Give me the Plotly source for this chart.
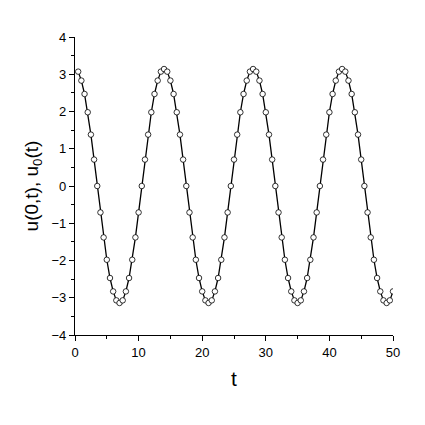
import plotly.graph_objects as go

t = [0.5, 1.0, 1.5, 2.0, 2.5, 3.0, 3.5, 4.0, 4.5, 5.0,
     5.5, 6.0, 6.5, 7.0, 7.5, 8.0, 8.5, 9.0, 9.5, 10.0,
     10.5, 11.0, 11.5, 12.0, 12.5, 13.0, 13.5, 14.0, 14.5, 15.0,
     15.5, 16.0, 16.5, 17.0, 17.5, 18.0, 18.5, 19.0, 19.5, 20.0,
     20.5, 21.0, 21.5, 22.0, 22.5, 23.0, 23.5, 24.0, 24.5, 25.0,
     25.5, 26.0, 26.5, 27.0, 27.5, 28.0, 28.5, 29.0, 29.5, 30.0,
     30.5, 31.0, 31.5, 32.0, 32.5, 33.0, 33.5, 34.0, 34.5, 35.0,
     35.5, 36.0, 36.5, 37.0, 37.5, 38.0, 38.5, 39.0, 39.5, 40.0,
     40.5, 41.0, 41.5, 42.0, 42.5, 43.0, 43.5, 44.0, 44.5, 45.0,
     45.5, 46.0, 46.5, 47.0, 47.5, 48.0, 48.5, 49.0, 49.5, 50.0]

u = [3.07, 2.83, 2.47, 1.98, 1.38, 0.71, 0.00, -0.71, -1.38, -1.98,
     -2.47, -2.83, -3.07, -3.14, -3.07, -2.83, -2.47, -1.98, -1.38, -0.71,
     0.00, 0.71, 1.38, 1.98, 2.47, 2.83, 3.07, 3.14, 3.07, 2.83,
     2.47, 1.98, 1.38, 0.71, 0.00, -0.71, -1.38, -1.98, -2.47, -2.83,
     -3.07, -3.14, -3.07, -2.83, -2.47, -1.98, -1.38, -0.71, 0.00, 0.71,
     1.38, 1.98, 2.47, 2.83, 3.07, 3.14, 3.07, 2.83, 2.47, 1.98,
     1.38, 0.71, 0.00, -0.71, -1.38, -1.98, -2.47, -2.83, -3.07, -3.14,
     -3.07, -2.83, -2.47, -1.98, -1.38, -0.71, 0.00, 0.71, 1.38, 1.98,
     2.47, 2.83, 3.07, 3.14, 3.07, 2.83, 2.47, 1.98, 1.38, 0.71,
     0.00, -0.71, -1.38, -1.98, -2.47, -2.83, -3.07, -3.14, -3.07, -2.83]

u0 = list(u)

FONT = "Liberation Sans, Arial, sans-serif"

fig = go.Figure()
fig.add_trace(go.Scatter(x=t, y=u, mode="lines",
                         line=dict(color="black", width=1.3),
                         showlegend=False, hoverinfo="skip"))
fig.add_trace(go.Scatter(x=t, y=u0, mode="markers",
                         marker=dict(symbol="circle", size=5.5, color="white",
                                     line=dict(color="black", width=0.8)),
                         showlegend=False))

axis_common = dict(
    showgrid=False, zeroline=False, showline=True, linecolor="black", linewidth=1.2,
    ticks="outside", ticklen=5, tickwidth=1, tickcolor="black",
    tickfont=dict(family=FONT, size=13, color="black"),
    mirror=False,
)

fig.update_layout(
    width=425, height=425,
    margin=dict(l=67, r=40, t=29, b=98),
    paper_bgcolor="white", plot_bgcolor="white",
    font=dict(family=FONT, color="black"),
    xaxis=dict(range=[0, 50], dtick=10, tick0=0,
               minor=dict(dtick=5, ticks="outside", ticklen=3, tickcolor="black", tickwidth=1),
               title=dict(text="t", font=dict(family=FONT, size=21), standoff=12),
               **axis_common),
    yaxis=dict(range=[-4, 4], dtick=1, tick0=0,
               minor=dict(dtick=0.5, ticks="outside", ticklen=3, tickcolor="black", tickwidth=1),
               title=dict(text="u(0,t), u<sub>0</sub>(t)", font=dict(family=FONT, size=19), standoff=7),
               **axis_common),
)

fig.write_html("out.html")
